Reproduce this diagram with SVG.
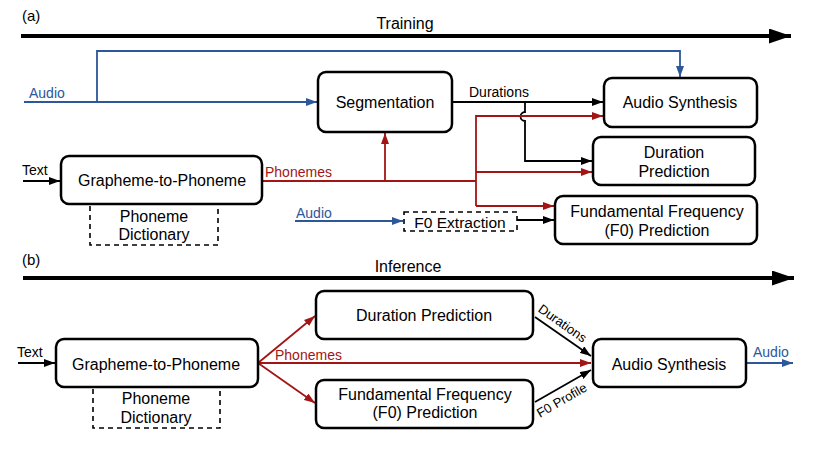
<svg xmlns="http://www.w3.org/2000/svg" width="823" height="449" viewBox="0 0 823 449">
<defs>
<style>
.box{fill:#fff;stroke:#000;stroke-width:2.5}
.dash{fill:none;stroke:#000;stroke-width:1.6;stroke-dasharray:5,4}
.t{font-family:"Liberation Sans",Arial,sans-serif;font-size:16px;fill:#000;text-anchor:middle}
.lb{font-family:"Liberation Sans",Arial,sans-serif;font-size:14px}
.k{stroke:#000;stroke-width:1.8;fill:none}
.r{stroke:#a31515;stroke-width:1.8;fill:none}
.b{stroke:#2c579a;stroke-width:1.8;fill:none}
.tl{stroke:#000;stroke-width:4;fill:none}
</style>
<marker id="ak" viewBox="0 0 11 8" refX="11" refY="4" markerWidth="11" markerHeight="8" markerUnits="userSpaceOnUse" orient="auto"><path d="M0,0L11,4L0,8z" fill="#000"/></marker>
<marker id="ar" viewBox="0 0 11 8" refX="11" refY="4" markerWidth="11" markerHeight="8" markerUnits="userSpaceOnUse" orient="auto"><path d="M0,0L11,4L0,8z" fill="#a31515"/></marker>
<marker id="ab" viewBox="0 0 11 8" refX="11" refY="4" markerWidth="11" markerHeight="8" markerUnits="userSpaceOnUse" orient="auto"><path d="M0,0L11,4L0,8z" fill="#2c579a"/></marker>
<marker id="big" viewBox="0 0 22 15" refX="22" refY="7.5" markerWidth="22" markerHeight="15" markerUnits="userSpaceOnUse" orient="auto"><path d="M0,0L22,7.5L0,15z" fill="#000"/></marker>
</defs>

<text class="lb" x="22" y="21" style="font-size:15px">(a)</text>
<text class="t" x="405" y="29">Training</text>
<text class="lb" x="22" y="265" style="font-size:15px">(b)</text>
<text class="t" x="408" y="272">Inference</text>

<g id="connectors">
<path class="tl" d="M21,36H791" marker-end="url(#big)"/>
<path class="tl" d="M23,278H794" marker-end="url(#big)"/>
<!-- (a) -->
<path class="b" d="M24,102H317" marker-end="url(#ab)"/>
<path class="b" d="M97,102V51H680V77" marker-end="url(#ab)"/>
<path class="b" d="M295,221H403" marker-end="url(#ab)"/>
<path class="k" d="M23,181H60" marker-end="url(#ak)"/>
<path class="k" d="M452,102H603" marker-end="url(#ak)"/>
<path class="k" d="M525,102V112A4.5,4.5 0 0 0 525,121V161H592" marker-end="url(#ak)"/>
<path class="k" d="M517,220H554" marker-end="url(#ak)"/>
<path class="r" d="M262,181H476"/>
<path class="r" d="M385,181V133" marker-end="url(#ar)"/>
<path class="r" d="M476,206V116H603" marker-end="url(#ar)"/>
<path class="r" d="M476,172H592" marker-end="url(#ar)"/>
<path class="r" d="M476,206H554" marker-end="url(#ar)"/>
<!-- (b) -->
<path class="k" d="M18,363H55" marker-end="url(#ak)"/>
<path class="r" d="M258,363L315,316" marker-end="url(#ar)"/>
<path class="r" d="M258,363L315,403" marker-end="url(#ar)"/>
<path class="r" d="M258,363H591" marker-end="url(#ar)"/>
<path class="k" d="M535,317L591,356" marker-end="url(#ak)"/>
<path class="k" d="M535,402L591,370" marker-end="url(#ak)"/>
<path class="b" d="M746,363H793" marker-end="url(#ab)"/>
<!-- labels -->
<text class="lb" x="29" y="98" fill="#2c579a">Audio</text>
<text class="lb" x="296" y="218" fill="#2c579a">Audio</text>
<text class="lb" x="22" y="175" fill="#000">Text</text>
<text class="lb" x="469" y="97" fill="#000">Durations</text>
<text class="lb" x="265" y="177" fill="#a31515">Phonemes</text>
<text class="lb" x="17" y="357" fill="#000">Text</text>
<text class="lb" x="275" y="360" fill="#a31515">Phonemes</text>
<text class="lb" x="753" y="357" fill="#2c579a">Audio</text>
<text class="lb" text-anchor="middle" transform="translate(560,327) rotate(35)" style="font-size:13px">Durations</text>
<text class="lb" text-anchor="middle" transform="translate(564,404) rotate(-30)" style="font-size:13px">F0 Profile</text>
</g>

<g id="a-seg"><rect class="box" x="318" y="72" width="134" height="60" rx="8"/><text class="t" x="385" y="108">Segmentation</text></g>
<g id="a-as"><rect class="box" x="604" y="78" width="153" height="49" rx="8"/><text class="t" x="680" y="108">Audio Synthesis</text></g>
<g id="a-dp"><rect class="box" x="593" y="137" width="162" height="48" rx="8"/><text class="t" x="674" y="158">Duration</text><text class="t" x="674" y="177">Prediction</text></g>
<g id="a-f0p"><rect class="box" x="555" y="196" width="202" height="48" rx="8"/><text class="t" x="657" y="217">Fundamental Frequency</text><text class="t" x="657" y="236">(F0) Prediction</text></g>
<g id="a-g2p"><rect class="box" x="61" y="156" width="201" height="48" rx="8"/><text class="t" x="162" y="186">Grapheme-to-Phoneme</text></g>
<g id="a-pd"><path class="dash" d="M90,206V245H218V206"/><text class="t" x="154" y="222">Phoneme</text><text class="t" x="154" y="240">Dictionary</text></g>
<g id="a-f0x"><rect class="dash" x="404" y="212" width="113" height="19"/><text class="t" x="460" y="227.5" style="font-size:15.5px">F0 Extraction</text></g>

<g id="b-g2p"><rect class="box" x="56" y="339" width="202" height="48" rx="8"/><text class="t" x="156" y="370">Grapheme-to-Phoneme</text></g>
<g id="b-pd"><path class="dash" d="M93,389V428H220V389"/><text class="t" x="156" y="404">Phoneme</text><text class="t" x="156" y="423">Dictionary</text></g>
<g id="b-dp"><rect class="box" x="316" y="291" width="217" height="48" rx="8"/><text class="t" x="424" y="321">Duration Prediction</text></g>
<g id="b-f0p"><rect class="box" x="316" y="380" width="217" height="48" rx="8"/><text class="t" x="425" y="400">Fundamental Frequency</text><text class="t" x="425" y="418">(F0) Prediction</text></g>
<g id="b-as"><rect class="box" x="593" y="339" width="153" height="48" rx="8"/><text class="t" x="669" y="370">Audio Synthesis</text></g>
</svg>
